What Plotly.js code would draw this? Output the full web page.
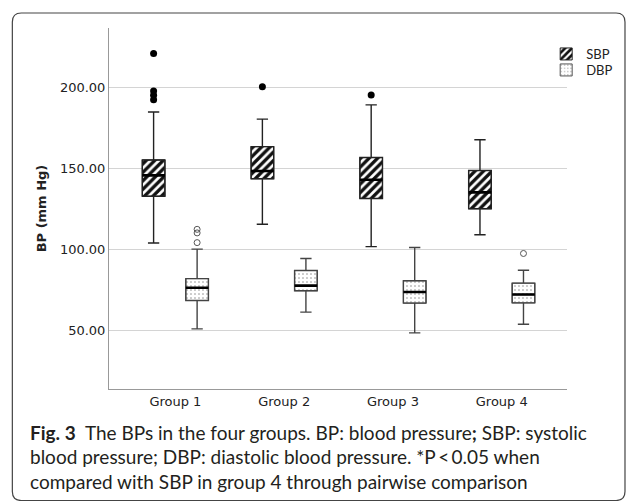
<!DOCTYPE html>
<html><head><meta charset="utf-8">
<script src="https://cdn.plot.ly/plotly-3.0.1.min.js"></script>
<style>html,body{margin:0;padding:0;background:#fff}#chart{width:630px;height:501px}</style>
</head><body><div id="chart"></div>
<script>
// ---- data ----
const groups = ['Group 1', 'Group 2', 'Group 3', 'Group 4'];
const seriesNames = ['SBP', 'DBP'];
// Systolic BP
const sbpLowerFence = [103.8, 115.3, 101.5, 108.9];
const sbpQ1 = [132.6, 143.4, 131.2, 124.9];
const sbpMedian = [145.5, 148.2, 142.8, 135.0];
const sbpQ3 = [155.0, 163.2, 156.5, 148.5];
const sbpUpperFence = [184.6, 180.2, 189.0, 167.5];
const sbpOutliers = [[220.6, 197.6, 194.9, 192.1], [200.2], [195.0], []];
// Diastolic BP
const dbpLowerFence = [50.8, 61.1, 48.3, 53.6];
const dbpQ1 = [68.3, 74.3, 66.7, 66.8];
const dbpMedian = [76.2, 77.5, 73.5, 72.0];
const dbpQ3 = [81.8, 86.8, 80.5, 79.0];
const dbpUpperFence = [100.0, 94.2, 101.0, 87.0];
const dbpOutliers = [[112.2, 110.0, 104.0], [], [], [97.3]];
const yTicks = [50, 100, 150, 200];
const captionLines = [
  '<b>Fig. 3</b>\u00a0 The BPs in the four groups. BP: blood pressure<b>;</b> SBP: systolic',
  'blood pressure; DBP: diastolic blood pressure. *P\u2009&lt;\u20090.05 when',
  'compared with SBP in group 4 through pairwise comparison'
];

// ---- layout helpers ----
const W = 630, H = 501, M = {l: 109, r: 59, t: 28, b: 112};
const pw = W - M.l - M.r, ph = H - M.t - M.b;
const px2x = px => (px - M.l) / pw;
const py2y = py => (H - M.b - py) / ph;
function roundedRect(x0, y0, x1, y1, r) {
  const X = px2x, Y = py2y;
  return `M${X(x0 + r)},${Y(y0)} L${X(x1 - r)},${Y(y0)} Q${X(x1)},${Y(y0)} ${X(x1)},${Y(y0 + r)} ` +
         `L${X(x1)},${Y(y1 - r)} Q${X(x1)},${Y(y1)} ${X(x1 - r)},${Y(y1)} ` +
         `L${X(x0 + r)},${Y(y1)} Q${X(x0)},${Y(y1)} ${X(x0)},${Y(y1 - r)} ` +
         `L${X(x0)},${Y(y0 + r)} Q${X(x0)},${Y(y0)} ${X(x0 + r)},${Y(y0)} Z`;
}
const diff = (a, b) => b.map((v, i) => v - a[i]);

const axisFont = {family: 'DejaVu Sans', size: 13, color: '#222'};
const captionFont = 'Lato, Roboto, sans-serif';

const sbpPattern = {shape: '/', fgcolor: '#111', bgcolor: '#fff', size: 6, solidity: 0.55, fillmode: 'replace'};
const dbpPattern = {shape: '.', fgcolor: '#8a8a8a', bgcolor: '#fff', size: 4, solidity: 0.12, fillmode: 'replace'};

const traces = [
  // patterned fills (drawn below boxes)
  {type: 'bar', name: seriesNames[0], x: groups, base: sbpQ1, y: diff(sbpQ1, sbpQ3), offsetgroup: 'sbp',
   legend: 'legend',
   marker: {color: '#fff', line: {color: '#222', width: 1}, pattern: sbpPattern}, hoverinfo: 'skip'},
  {type: 'bar', name: seriesNames[1], x: groups, base: dbpQ1, y: diff(dbpQ1, dbpQ3), offsetgroup: 'dbp',
   legend: 'legend2',
   marker: {color: '#fff', line: {color: '#555', width: 1}, pattern: dbpPattern}, hoverinfo: 'skip'},
  // boxes with whiskers and outliers
  {type: 'box', name: seriesNames[0], orientation: 'v', x: groups, y: sbpOutliers,
   q1: sbpQ1, median: sbpMedian, q3: sbpQ3, lowerfence: sbpLowerFence, upperfence: sbpUpperFence,
   boxpoints: 'outliers', jitter: 0, pointpos: 0, whiskerwidth: 0.5,
   fillcolor: 'rgba(0,0,0,0)', line: {color: '#222', width: 1.4},
   marker: {color: '#000', size: 7, symbol: 'circle'}, offsetgroup: 'sbp', showlegend: false},
  {type: 'box', name: seriesNames[1], orientation: 'v', x: groups, y: dbpOutliers,
   q1: dbpQ1, median: dbpMedian, q3: dbpQ3, lowerfence: dbpLowerFence, upperfence: dbpUpperFence,
   boxpoints: 'outliers', jitter: 0, pointpos: 0, whiskerwidth: 0.5,
   fillcolor: 'rgba(0,0,0,0)', line: {color: '#444', width: 1.4},
   marker: {color: '#555', size: 6, symbol: 'circle-open', line: {color: '#555', width: 1}},
   offsetgroup: 'dbp', showlegend: false},
  // thicker median lines
  {type: 'box', name: seriesNames[0] + ' median', orientation: 'v', x: groups,
   q1: sbpMedian, median: sbpMedian, q3: sbpMedian, lowerfence: sbpMedian, upperfence: sbpMedian,
   whiskerwidth: 0, fillcolor: 'rgba(0,0,0,0)', line: {color: '#000', width: 2.6},
   offsetgroup: 'sbp', showlegend: false, hoverinfo: 'skip'},
  {type: 'box', name: seriesNames[1] + ' median', orientation: 'v', x: groups,
   q1: dbpMedian, median: dbpMedian, q3: dbpMedian, lowerfence: dbpMedian, upperfence: dbpMedian,
   whiskerwidth: 0, fillcolor: 'rgba(0,0,0,0)', line: {color: '#000', width: 2.6},
   offsetgroup: 'dbp', showlegend: false, hoverinfo: 'skip'}
];

const legendBase = {xanchor: 'left', yanchor: 'top', bgcolor: 'rgba(0,0,0,0)', borderwidth: 0,
                    font: {family: captionFont, size: 13, color: '#222'}};

const layout = {
  width: W, height: H,
  margin: {l: M.l, r: M.r, t: M.t, b: M.b, pad: 0},
  paper_bgcolor: '#fff', plot_bgcolor: '#fff',
  boxmode: 'group', boxgap: 0.2, boxgroupgap: 0.48,
  barmode: 'group', bargap: 0.2, bargroupgap: 0.48,
  showlegend: true,
  legend: Object.assign({x: px2x(550), y: py2y(39)}, legendBase),
  legend2: Object.assign({x: px2x(550), y: py2y(55)}, legendBase),
  xaxis: {type: 'category', range: [-0.61, 3.6], showline: true, linecolor: '#999', linewidth: 1,
          showgrid: false, zeroline: false, ticks: '', tickfont: axisFont, fixedrange: true},
  yaxis: {range: [13.7, 236.4], tickvals: yTicks, tickformat: '.2f', showline: true, linecolor: '#999',
          linewidth: 1, showgrid: true, gridcolor: '#d4d4d4', gridwidth: 1, zeroline: false, ticks: '',
          tickfont: axisFont, fixedrange: true,
          title: {text: 'BP (mm Hg)', font: {family: 'DejaVu Sans', size: 13, weight: 'bold', color: '#222'}, standoff: 10}},
  annotations: captionLines.map((t, i) => ({
    text: t, xref: 'paper', yref: 'paper', x: px2x(27), y: py2y(432 + i * 24.5),
    xanchor: 'left', yanchor: 'middle', showarrow: false, align: 'left',
    font: {family: captionFont, size: 19, color: '#231f20'}
  })),
  shapes: [{type: 'path', xref: 'paper', yref: 'paper', path: roundedRect(11.5, 13, 629.5, 500.5, 9),
            line: {color: '#444', width: 1.2}, fillcolor: 'rgba(0,0,0,0)', layer: 'above'}]
};

Plotly.newPlot('chart', traces, layout, {staticPlot: true, displayModeBar: false});
</script>
</body></html>
